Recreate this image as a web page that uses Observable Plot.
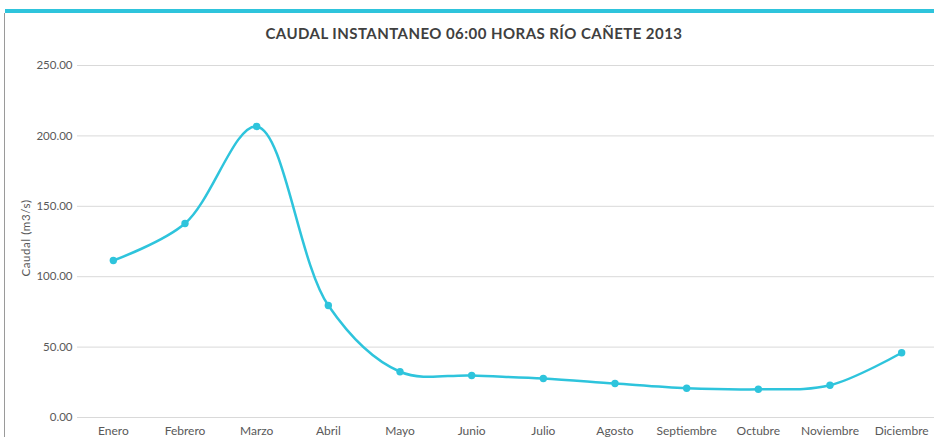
<!DOCTYPE html>
<html>
<head>
<meta charset="utf-8">
<script src="https://cdn.jsdelivr.net/npm/d3@7"></script>
<script src="https://cdn.jsdelivr.net/npm/@observablehq/plot@0.6"></script>
<style>
  html, body { margin: 0; padding: 0; background: #fff; }
  #wrap { position: relative; width: 934px; height: 437px; overflow: hidden; font-family: Lato, "Open Sans", sans-serif; }
  #topbar { position: absolute; left: 5px; top: 9px; width: 929px; height: 4px; background: #2ec4dc; }
  #leftline { position: absolute; left: 4px; top: 13px; width: 1px; height: 424px; background: #9a9a9a; }
  #title { position: absolute; left: 0; top: 24px; width: 948px; text-align: center; font-size: 15px; font-weight: bold; color: #404040; letter-spacing: 0.45px; }
  #ylabel { position: absolute; left: 25px; top: 238px; transform: translate(-50%, -50%) rotate(-90deg); white-space: nowrap; font-size: 11.5px; color: #595959; letter-spacing: 0.6px; }
  #chart { position: absolute; left: 0; top: 50px; }
</style>
</head>
<body>
<div id="wrap">
  <div id="topbar"></div>
  <div id="leftline"></div>
  <div id="title">CAUDAL INSTANTANEO 06:00 HORAS RÍO CAÑETE 2013</div>
  <div id="chart"></div>
  <div id="ylabel"></div>
</div>
<script>
const months = ["Enero","Febrero","Marzo","Abril","Mayo","Junio","Julio","Agosto","Septiembre","Octubre","Noviembre","Diciembre"];
const caudal = [111.5, 137.8, 206.7, 79.5, 32.5, 29.8, 27.7, 24.1, 20.8, 20.1, 22.9, 46.0];
const yTicks = [0, 50, 100, 150, 200, 250];
const yLabel = "Caudal (m3/s)";

document.getElementById("ylabel").textContent = yLabel;

const data = months.map((m, i) => ({month: m, value: caudal[i]}));

const chart = Plot.plot({
  width: 934,
  height: 387,
  marginTop: 15,
  marginBottom: 20,
  marginLeft: 77,
  marginRight: 0,
  style: { fontFamily: "Lato, 'Open Sans', sans-serif", fontSize: "11px", color: "#595959", background: "transparent", overflow: "visible" },
  x: { type: "point", domain: months, range: [77, 937], padding: 0.5, round: false, label: null },
  y: { domain: [0, 250], label: null },
  marks: [
    Plot.ruleY(yTicks, { stroke: "#d9d9d9", strokeWidth: 1 }),
    Plot.axisX({ tickSize: 0, tickPadding: 9, fontSize: 12 }),
    Plot.axisY({ ticks: yTicks, tickSize: 0, tickPadding: 5, tickFormat: d => d.toFixed(2), fontSize: 11.5 }),
    Plot.line(data, { x: "month", y: "value", stroke: "#2ec4dc", strokeWidth: 2.5, curve: "catmull-rom" }),
    Plot.dot(data, { x: "month", y: "value", fill: "#2ec4dc", r: 3.7 })
  ]
});
document.getElementById("chart").appendChild(chart);
</script>
</body>
</html>
